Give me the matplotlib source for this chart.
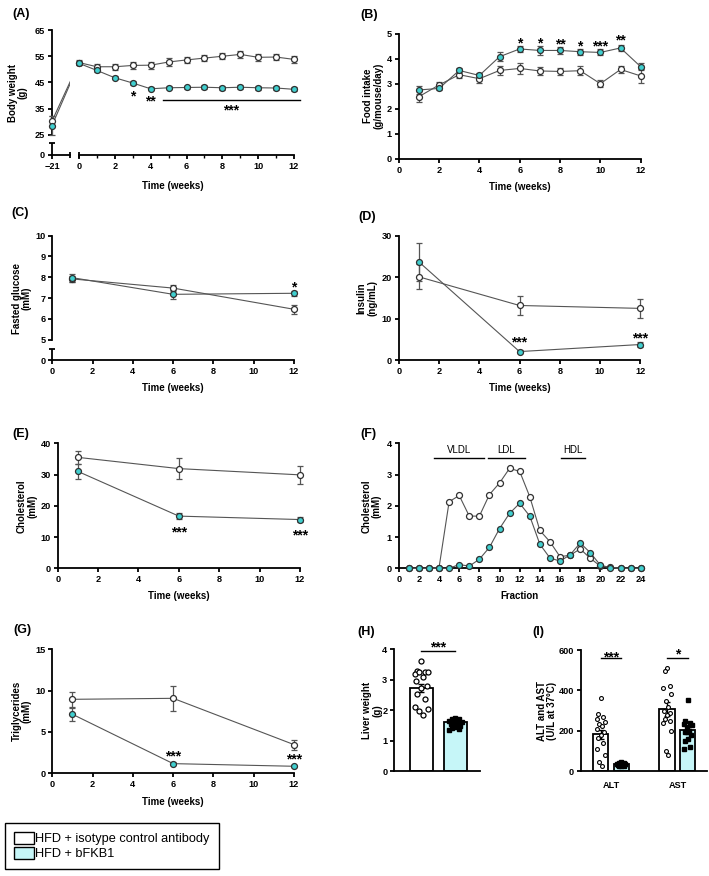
import numpy as np
import matplotlib
matplotlib.use('Agg')
import matplotlib.pyplot as plt
from matplotlib.patches import Patch

W, H = 709, 876
plt.rcParams['font.family'] = ['Liberation Sans', 'DejaVu Sans']
plt.rcParams['font.weight'] = 'bold'
plt.rcParams['axes.labelweight'] = 'bold'

CYAN = '#40CFCF'
CYAN_BAR = '#C6F6F8'
LINE = '#555555'
EDGE = '#303030'

# ---------------- data ----------------
# (A) body weight
weeks_A = np.arange(0, 13)
base_week = -21
bw_base_ctrl, bw_base_ctrl_err = 30.3, 2.0
bw_base_fkb, bw_base_fkb_err = 28.6, 3.7
bw_ctrl = [52.6, 51.0, 51.0, 51.5, 51.6, 52.8, 53.6, 54.3, 55.0, 55.7, 54.6, 54.7, 53.8]
bw_ctrl_err = [0.8, 1.0, 1.2, 1.3, 1.3, 1.4, 1.3, 1.3, 1.2, 1.3, 1.4, 1.3, 1.2]
bw_fkb = [52.3, 49.6, 46.8, 44.8, 42.6, 43.0, 43.1, 43.2, 43.0, 43.2, 43.0, 42.9, 42.4]
bw_fkb_err = [0.6, 0.6, 0.6, 0.6, 0.6, 0.6, 0.6, 0.7, 0.7, 0.7, 0.7, 0.7, 0.8]

# (B) food intake
weeks_B = np.arange(1, 13)
fi_ctrl = [2.48, 2.95, 3.36, 3.20, 3.53, 3.61, 3.51, 3.49, 3.52, 3.00, 3.57, 3.31]
fi_ctrl_err = [0.22, 0.10, 0.12, 0.17, 0.18, 0.22, 0.17, 0.13, 0.18, 0.13, 0.14, 0.27]
fi_fkb = [2.75, 2.81, 3.53, 3.33, 4.08, 4.39, 4.33, 4.33, 4.28, 4.25, 4.43, 3.68]
fi_fkb_err = [0.15, 0.08, 0.10, 0.08, 0.17, 0.13, 0.18, 0.15, 0.12, 0.12, 0.12, 0.14]
stars_B_x = [6, 7, 8, 9, 10, 11]
stars_B_txt = ['*', '*', '**', '*', '***', '**']
stars_B_y = [4.77, 4.77, 4.72, 4.64, 4.64, 4.88]

weeks_3 = [1, 6, 12]
# (C) fasted glucose
glu_ctrl = [7.92, 7.48, 6.46]
glu_ctrl_err = [0.15, 0.15, 0.22]
glu_fkb = [7.98, 7.18, 7.23]
glu_fkb_err = [0.20, 0.22, 0.12]
# (D) insulin
ins_ctrl = [20.1, 13.2, 12.5]
ins_ctrl_err = [3.0, 2.4, 2.2]
ins_fkb = [23.7, 2.1, 3.8]
ins_fkb_err = [4.5, 0.4, 0.5]
# (E) cholesterol
chol_ctrl = [35.5, 31.9, 29.9]
chol_ctrl_err = [2.0, 3.3, 2.8]
chol_fkb = [31.0, 16.7, 15.6]
chol_fkb_err = [2.4, 0.9, 0.8]
# (G) triglycerides
tg_ctrl = [8.95, 9.07, 3.47]
tg_ctrl_err = [0.9, 1.5, 0.6]
tg_fkb = [7.14, 1.17, 0.85]
tg_fkb_err = [0.8, 0.15, 0.1]

# (F) FPLC profile
fractions = np.arange(1, 25)
fplc_ctrl = [0, 0, 0, 0.02, 2.13, 2.33, 1.67, 1.67, 2.36, 2.73, 3.20, 3.10,
             2.29, 1.21, 0.85, 0.37, 0.42, 0.62, 0.32, 0.07, 0.03, 0, 0, 0]
fplc_fkb = [0, 0, 0, 0, 0, 0.12, 0.07, 0.29, 0.67, 1.27, 1.76, 2.08,
            1.67, 0.77, 0.33, 0.23, 0.43, 0.81, 0.50, 0.10, 0.02, 0, 0, 0]
lipo_names = ['VLDL', 'LDL', 'HDL']
lipo_start = [3.5, 8.9, 16.1]
lipo_end = [8.5, 12.5, 18.5]

# (H) liver weight
liver_mean = [2.72, 1.61]
liver_err = [0.13, 0.04]
liver_ctrl_pts = [3.63, 3.28, 3.24, 3.18, 3.24, 3.26, 3.10, 2.95, 2.80, 2.72,
                  2.55, 2.38, 2.12, 2.05, 1.98, 1.85]
liver_fkb_pts = [1.75, 1.72, 1.70, 1.65, 1.63, 1.60, 1.58, 1.55, 1.50, 1.45,
                 1.42, 1.38, 1.35]

# (I) ALT / AST
enzymes = ['ALT', 'AST']
enz_ctrl_mean = [183, 308]
enz_ctrl_err = [22, 35]
enz_fkb_mean = [35, 203]
enz_fkb_err = [4, 18]
alt_ctrl_pts = [365, 285, 270, 258, 245, 235, 222, 210, 195, 180, 165, 140, 110, 80, 45, 25]
alt_fkb_pts = [45, 42, 40, 38, 36, 35, 33, 32, 30, 28, 27, 25]
ast_ctrl_pts = [510, 495, 420, 410, 380, 350, 320, 300, 290, 280, 260, 250, 240, 200, 100, 80]
ast_fkb_pts = [355, 250, 240, 235, 230, 220, 200, 195, 180, 160, 150, 120, 110]

legend_labels = ['HFD + isotype control antibody', 'HFD + bFKB1']

# ---------------- figure ----------------
fig = plt.figure(figsize=(W / 100, H / 100), dpi=100)


def axpx(l, t, r, b):
    return fig.add_axes([l / W, 1 - b / H, (r - l) / W, (b - t) / H])


def style(ax):
    for s in ['top', 'right']:
        ax.spines[s].set_visible(False)
    for s in ['left', 'bottom']:
        ax.spines[s].set_linewidth(1.3)
    ax.tick_params(direction='out', length=3, width=1.3, labelsize=6.6, pad=2)
    ax.patch.set_alpha(0)


def ylab(ax, text, right_px, left_px, width_px):
    ax.set_ylabel(text, fontsize=7, linespacing=1.05, multialignment='center')
    ax.yaxis.set_label_coords((right_px - left_px) / width_px, 0.5)


def xlab(ax, text, top_px, bottom_px, height_px):
    ax.set_xlabel(text, fontsize=7)
    ax.xaxis.set_label_coords(0.5, -(top_px - bottom_px) / height_px)


def series(ax, x, y, e, face, z=3):
    c = ax.errorbar(x, y, yerr=e, fmt='none', ecolor=LINE, elinewidth=0.9,
                    capsize=2, capthick=0.9, zorder=z)
    for a in c.get_children():
        a.set_clip_on(False)
    ax.plot(x, y, '-', color=LINE, lw=0.8, zorder=z, clip_on=False)
    ax.plot(x, y, 'o', ms=4.3, mfc=face, mec=EDGE, mew=0.9, zorder=z + 0.5, clip_on=False)


def star(ax, x, y, s, size=10):
    ax.annotate(s, (x, y), xytext=(0, -2.9), textcoords='offset points',
                ha='center', va='center', fontsize=size, annotation_clip=False)


def panel(x_px, yc_px, s):
    fig.text(x_px / W, 1 - yc_px / H, s, fontsize=9, ha='left', va='center')


# ---- (A) ----
def fwdA(y):
    y = np.asarray(y, float)
    return np.where(y >= 25, y, 17.38 + y * 0.3048)


def invA(s):
    s = np.asarray(s, float)
    return np.where(s >= 25, s, (s - 17.38) / 0.3048)


axA1 = axpx(52, 30, 70, 155)
axA2 = axpx(79, 30, 294, 155)
for ax in (axA1, axA2):
    style(ax)
    ax.set_yscale('function', functions=(fwdA, invA))
    ax.set_ylim(0, 65)
axA1.set_xlim(-21, -7)
axA2.set_xlim(0, 12)
axA1.set_xticks([base_week])
axA1.set_yticks([0, 25, 35, 45, 55, 65])
axA1.spines['left'].set_bounds(25, 65)
axA1.plot([0, 0], [0, 15], transform=axA1.get_yaxis_transform(), color='k', lw=1.3,
          clip_on=False, solid_capstyle='butt')
axA1.plot([0], [15], marker='_', ms=4.5, mew=1.3, color='k',
          transform=axA1.get_yaxis_transform(), clip_on=False)
axA1.plot([1], [0], marker='|', ms=5, mew=1.3, color='k', transform=axA1.transAxes, clip_on=False)
axA2.plot([0], [0], marker='|', ms=5, mew=1.3, color='k', transform=axA2.transAxes, clip_on=False)
axA2.spines['left'].set_visible(False)
axA2.tick_params(axis='y', left=False, labelleft=False)
axA2.set_xticks(np.arange(0, 13, 2))
axA2.set_xticks(np.arange(1, 13, 2), minor=True)
axA2.tick_params(axis='x', which='minor', length=2, width=1.0)
# baseline segments (clipped at the break)
axA1.plot([base_week, 0], [bw_base_ctrl, bw_ctrl[0]], color=LINE, lw=0.8)
axA1.plot([base_week, 0], [bw_base_fkb, bw_fkb[0]], color=LINE, lw=0.8)
series(axA1, [base_week], [bw_base_ctrl], [bw_base_ctrl_err], 'white')
series(axA1, [base_week], [bw_base_fkb], [bw_base_fkb_err], CYAN)
series(axA2, weeks_A, bw_ctrl, bw_ctrl_err, 'white')
series(axA2, weeks_A, bw_fkb, bw_fkb_err, CYAN)
star(axA2, 3, 41.4, '*')
star(axA2, 4, 39.2, '**')
axA2.plot([4.69, 12.35], [38.3, 38.3], color='k', lw=1.0, clip_on=False)
star(axA2, 8.48, 36.0, '***')
ylab(axA1, 'Body weight\n(g)', 28, 52, 18)
axA2.set_xlabel('Time (weeks)', fontsize=7)
axA2.xaxis.set_label_coords((173 - 79) / 215, -(181 - 155) / 125)
panel(12, 14, '(A)')

# ---- (B) ----
axB = axpx(398.7, 33.7, 640.7, 158.7)
style(axB)
axB.set_xlim(0, 12)
axB.set_ylim(0, 5)
axB.set_xticks(np.arange(0, 13, 2))
axB.set_yticks(np.arange(0, 6))
series(axB, weeks_B, fi_ctrl, fi_ctrl_err, 'white')
series(axB, weeks_B, fi_fkb, fi_fkb_err, CYAN)
for x, s, y in zip(stars_B_x, stars_B_txt, stars_B_y):
    star(axB, x, y, s)
ylab(axB, 'Food intake\n(g/mouse/day)', 383, 398.7, 242)
xlab(axB, 'Time (weeks)', 182, 158.7, 125)
panel(360, 15, '(B)')


# ---- (C) ----
def fwdC(y):
    y = np.asarray(y, float)
    return np.where(y >= 5, y, 4.006 + y * 0.1988)


def invC(s):
    s = np.asarray(s, float)
    return np.where(s >= 5, s, (s - 4.006) / 0.1988)


axC = axpx(52.3, 235.7, 294, 360.3)
style(axC)
axC.set_yscale('function', functions=(fwdC, invC))
axC.set_ylim(0, 10)
axC.set_xlim(0, 12)
axC.set_xticks(np.arange(0, 13, 2))
axC.set_yticks([0, 5, 6, 7, 8, 9, 10])
axC.spines['left'].set_bounds(5, 10)
axC.plot([0, 0], [0, 2.74], transform=axC.get_yaxis_transform(), color='k', lw=1.3,
         clip_on=False, solid_capstyle='butt')
axC.plot([0], [2.74], marker='_', ms=4.5, mew=1.3, color='k',
         transform=axC.get_yaxis_transform(), clip_on=False)
series(axC, weeks_3, glu_ctrl, glu_ctrl_err, 'white')
series(axC, weeks_3, glu_fkb, glu_fkb_err, CYAN)
star(axC, 12, 7.72, '*')
ylab(axC, 'Fasted glucose\n(mM)', 32, 52.3, 241.7)
xlab(axC, 'Time (weeks)', 383, 360.3, 124.6)
panel(11, 213, '(C)')

# ---- (D) ----
axD = axpx(398.7, 235.7, 640.3, 360.3)
style(axD)
axD.set_xlim(0, 12)
axD.set_ylim(0, 30)
axD.set_xticks(np.arange(0, 13, 2))
axD.set_yticks([0, 10, 20, 30])
series(axD, weeks_3, ins_ctrl, ins_ctrl_err, 'white')
series(axD, weeks_3, ins_fkb, ins_fkb_err, CYAN)
star(axD, 6, 5.2, '***')
star(axD, 12, 6.3, '***')
ylab(axD, 'Insulin\n(ng/mL)', 377, 398.7, 241.6)
xlab(axD, 'Time (weeks)', 383, 360.3, 124.6)
panel(358, 217, '(D)')

# ---- (E) ----
axE = axpx(57.7, 443.3, 300, 568.3)
style(axE)
axE.set_xlim(0, 12)
axE.set_ylim(0, 40)
axE.set_xticks(np.arange(0, 13, 2))
axE.set_yticks(np.arange(0, 41, 10))
series(axE, weeks_3, chol_ctrl, chol_ctrl_err, 'white')
series(axE, weeks_3, chol_fkb, chol_fkb_err, CYAN)
star(axE, 6, 12.6, '***')
star(axE, 12, 11.8, '***')
ylab(axE, 'Cholesterol\n(mM)', 37, 57.7, 242.3)
xlab(axE, 'Time (weeks)', 591, 568.3, 125)
panel(12, 434, '(E)')

# ---- (F) ----
axF = axpx(398.7, 443.3, 640.7, 568.3)
style(axF)
axF.set_xlim(0, 24)
axF.set_ylim(0, 4)
axF.set_xticks(np.arange(0, 25, 2))
axF.set_yticks(np.arange(0, 5))
series(axF, fractions, fplc_ctrl, None, 'white')
series(axF, fractions, fplc_fkb, None, CYAN)
for name, a, b in zip(lipo_names, lipo_start, lipo_end):
    axF.plot([a, b], [3.54, 3.54], color='k', lw=1.0)
    axF.text((a + b) / 2, 3.8, name, ha='center', va='center', fontsize=7, fontweight='normal')
ylab(axF, 'Cholesterol\n(mM)', 382, 398.7, 242)
xlab(axF, 'Fraction', 591, 568.3, 125)
panel(360, 434, '(F)')

# ---- (G) ----
axG = axpx(52.3, 649.3, 294, 773.3)
style(axG)
axG.set_xlim(0, 12)
axG.set_ylim(0, 15)
axG.set_xticks(np.arange(0, 13, 2))
axG.set_yticks([0, 5, 10, 15])
series(axG, weeks_3, tg_ctrl, tg_ctrl_err, 'white')
series(axG, weeks_3, tg_fkb, tg_fkb_err, CYAN)
star(axG, 6, 2.54, '***')
star(axG, 12, 2.1, '***')
ylab(axG, 'Triglycerides\n(mM)', 32, 52.3, 241.7)
xlab(axG, 'Time (weeks)', 797, 773.3, 124)
panel(13, 630, '(G)')


def offsets(n, half):
    pat = np.array([0.0, -0.6, 0.6, -1.0, 1.0, -0.3, 0.3, -0.8, 0.8])
    return pat[np.arange(n) % len(pat)] * half


# ---- (H) ----
axH = axpx(394.3, 649.3, 480, 771.3)
style(axH)
axH.set_xlim(-0.795, 1.72)
axH.set_ylim(0, 4)
axH.set_yticks(np.arange(0, 5))
axH.set_xticks([])
axH.bar([0, 1], liver_mean, width=0.66, color=['white', CYAN_BAR], edgecolor='k', linewidth=1.3, zorder=2)
axH.errorbar([0, 1], liver_mean, yerr=liver_err, fmt='none', ecolor='k', elinewidth=1.0,
             capsize=2.5, capthick=1.0, zorder=3)
axH.plot(0 + offsets(len(liver_ctrl_pts), 0.2), liver_ctrl_pts, 'o', ms=3.6, mfc='white',
         mec='k', mew=0.9, ls='none', zorder=4)
axH.plot(1 + offsets(len(liver_fkb_pts), 0.18), liver_fkb_pts, 's', ms=3.0, mfc='k',
         mec='k', ls='none', zorder=4)
axH.plot([0, 1], [3.96, 3.96], color='k', lw=1.0, clip_on=False)
star(axH, 0.5, 4.2, '***')
ylab(axH, 'Liver weight\n(g)', 382, 394.3, 85.7)
panel(357, 632, '(H)')

# ---- (I) ----
axI = axpx(581, 650, 706.7, 771.3)
style(axI)
axI.set_xlim(-0.451, 1.44)
axI.set_ylim(0, 600)
axI.set_yticks([0, 200, 400, 600])
gx = np.arange(len(enzymes))
dx, bw = 0.155, 0.233
axI.set_xticks(gx)
axI.set_xticklabels(enzymes)
axI.tick_params(axis='x', length=0, pad=7)
axI.bar(gx - dx, enz_ctrl_mean, width=bw, color='white', edgecolor='k', linewidth=1.3, zorder=2)
axI.bar(gx + dx, enz_fkb_mean, width=bw, color=CYAN_BAR, edgecolor='k', linewidth=1.3, zorder=2)
axI.errorbar(gx - dx, enz_ctrl_mean, yerr=enz_ctrl_err, fmt='none', ecolor='k', elinewidth=1.0,
             capsize=2, capthick=1.0, zorder=3)
axI.errorbar(gx + dx, enz_fkb_mean, yerr=enz_fkb_err, fmt='none', ecolor='k', elinewidth=1.0,
             capsize=2, capthick=1.0, zorder=3)
for g, pts in zip(gx, [alt_ctrl_pts, ast_ctrl_pts]):
    axI.plot(g - dx + offsets(len(pts), 0.06), pts, 'o', ms=2.8, mfc='white', mec='k',
             mew=0.8, ls='none', zorder=4)
for g, pts in zip(gx, [alt_fkb_pts, ast_fkb_pts]):
    axI.plot(g + dx + offsets(len(pts), 0.06), pts, 's', ms=2.3, mfc='k', mec='k',
             ls='none', zorder=4)
for g, s, ys in zip(gx, ['***', '*'], [583, 600]):
    axI.plot([g - dx, g + dx], [559, 559], color='k', lw=1.0, clip_on=False)
    star(axI, g, ys, s)
ylab(axI, 'ALT and AST\n(U/L at 37°C)', 557, 581, 125.7)
panel(532, 632, '(I)')

# ---- legend ----
handles = [Patch(facecolor='white', edgecolor='k', linewidth=1.0),
           Patch(facecolor=CYAN_BAR, edgecolor='k', linewidth=1.0)]
leg = fig.legend(handles, legend_labels, loc='upper left', bbox_to_anchor=(5 / W, 1 - 823 / H),
                 frameon=True, fancybox=False, edgecolor='k', framealpha=1,
                 prop={'weight': 'normal', 'size': 9.2}, handlelength=1.55, handleheight=1.05,
                 handletextpad=0.12, labelspacing=0.12, borderpad=0.7, borderaxespad=0)
leg.get_frame().set_linewidth(1.0)

fig.savefig('out.png', dpi=100)
